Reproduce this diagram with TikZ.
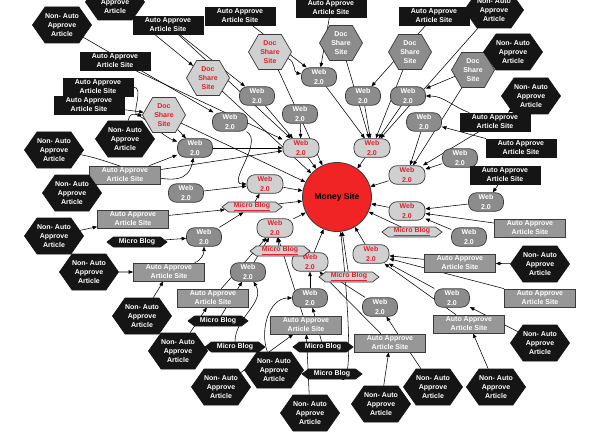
\documentclass[tikz,border=0pt]{standalone}
\usepackage{fontspec}
\setmainfont{Liberation Sans}
\usetikzlibrary{shapes.symbols,shapes.geometric,arrows.meta,backgrounds}
\definecolor{blk}{HTML}{151515}
\definecolor{midg}{HTML}{8C8C8C}
\definecolor{boxg}{HTML}{979797}
\definecolor{lightg}{HTML}{D0D0D0}
\definecolor{redt}{HTML}{E0202C}
\definecolor{moneyred}{HTML}{F02424}
\definecolor{edg}{HTML}{3A3A3A}
\tikzset{
 base/.style={font=\fontsize{7}{9.2}\selectfont\bfseries, align=center, inner sep=0.5pt, line width=0.7pt},
 rweb/.style={base, rectangle, rounded corners=8pt, draw=edg, fill=lightg, text=redt, minimum width=36pt, minimum height=18.5pt},
 gweb/.style={base, rectangle, rounded corners=8pt, draw=edg, fill=midg, text=white, minimum width=35pt, minimum height=18.5pt},
 bbox/.style={base, rectangle, draw=blk, fill=blk, text=white, minimum width=70pt, minimum height=18pt},
 gbox/.style={base, rectangle, draw=edg, fill=boxg, text=white, minimum width=71pt, minimum height=18pt},
 nahex/.style={base, signal, signal to=east and west, signal pointer angle=110, fill=blk, draw=blk, text=white, minimum width=52pt, minimum height=36pt, inner xsep=0pt},
 rdoc/.style={base, signal, signal to=east and west, signal pointer angle=120, fill=lightg, draw=edg, text=redt, minimum width=43pt, minimum height=35pt, inner xsep=0pt},
 gdoc/.style={base, signal, signal to=east and west, signal pointer angle=120, fill=midg, draw=edg, text=white, minimum width=43pt, minimum height=35pt, inner xsep=0pt},
 rmb/.style={base, signal, signal to=east and west, signal pointer angle=75, fill=lightg, draw=edg, text=redt, minimum width=60pt, minimum height=10pt, inner ysep=0.5pt, inner xsep=0pt},
 bmb/.style={base, signal, signal to=east and west, signal pointer angle=75, fill=blk, draw=blk, text=white, minimum width=60pt, minimum height=10pt, inner ysep=0.5pt, inner xsep=0pt},
 money/.style={circle, draw=edg, line width=0.8pt, fill=moneyred, minimum size=69pt, font=\fontsize{8.5}{10}\selectfont\bfseries},
 ar/.style={-{Triangle[length=4.5pt,width=3.6pt]}, line width=0.55pt, black},
}
\newcommand{\txNA}{Non- Auto\\Approve\\Article}
\newcommand{\txAA}{Auto Approve\\Article Site}
\newcommand{\txWB}{Web\\2.0}
\newcommand{\txDS}{Doc\\Share\\Site}
\newcommand{\txMB}{\underline{Micro Blog}}
\begin{document}
\begin{tikzpicture}[x=1pt,y=-1pt]
\clip (0,0) rectangle (602,441);
% money site
\node[money] (M) at (337,197) {Money Site};
% red web
\node[rweb] (rw1) at (301,148) {\txWB};
\node[rweb] (rw2) at (372,148) {\txWB};
\node[rweb] (rw3) at (265,184) {\txWB};
\node[rweb] (rw4) at (407,175) {\txWB};
\node[rweb] (rw5) at (407,211) {\txWB};
\node[rweb] (rw6) at (371,254) {\txWB};
\node[rweb] (rw7) at (275,228) {\txWB};
\node[rweb] (rw8) at (310,262) {\txWB};
% red micro blogs
\node[rmb] (rm1) at (252,207) {\txMB};
\node[rmb] (rm2) at (280,251) {\txMB};
\node[rmb] (rm3) at (349,277) {\txMB};
\node[rmb] (rm4) at (412,232) {\txMB};
% red doc share
\node[rdoc] (rd1) at (164,115) {\txDS};
\node[rdoc] (rd2) at (208,78) {\txDS};
\node[rdoc] (rd3) at (270,52) {\txDS};
% gray doc share
\node[gdoc] (gd1) at (341,43) {\txDS};
\node[gdoc] (gd2) at (410,52) {\txDS};
\node[gdoc] (gd3) at (473,70) {\txDS};
% gray web
\node[gweb] (gw1) at (319,77) {\txWB};
\node[gweb] (gw2) at (257,96) {\txWB};
\node[gweb] (gw3) at (363,96) {\txWB};
\node[gweb] (gw4) at (408,96) {\txWB};
\node[gweb] (gw5) at (300,114) {\txWB};
\node[gweb] (gw6) at (230,122) {\txWB};
\node[gweb] (gw7) at (424,122) {\txWB};
\node[gweb] (gw8) at (195,148) {\txWB};
\node[gweb] (gw9) at (460,158) {\txWB};
\node[gweb] (gw10) at (186,193) {\txWB};
\node[gweb] (gw11) at (486,202) {\txWB};
\node[gweb] (gw12) at (204,237) {\txWB};
\node[gweb] (gw13) at (469,237) {\txWB};
\node[gweb] (gw14) at (248,272) {\txWB};
\node[gweb] (gw15) at (310,298) {\txWB};
\node[gweb] (gw16) at (452,298) {\txWB};
\node[gweb] (gw17) at (380,307) {\txWB};
% black boxes
\node[bbox] (ba1) at (168,25) {\txAA};
\node[bbox] (ba2) at (240,16) {\txAA};
\node[bbox] (ba3) at (331,8) {\txAA};
\node[bbox] (ba4) at (434,16) {\txAA};
\node[bbox] (ba5) at (115,61) {\txAA};
\node[bbox] (ba6) at (98,87) {\txAA};
\node[bbox] (ba7) at (89,105) {\txAA};
\node[bbox] (ba8) at (495,122) {\txAA};
\node[bbox] (ba9) at (521,148) {\txAA};
\node[bbox] (ba10) at (505,175) {\txAA};
% gray boxes
\node[gbox] (ga1) at (125,175) {\txAA};
\node[gbox] (ga2) at (133,219) {\txAA};
\node[gbox] (ga3) at (169,272) {\txAA};
\node[gbox] (ga4) at (213,298) {\txAA};
\node[gbox] (ga5) at (306,325) {\txAA};
\node[gbox] (ga6) at (390,343) {\txAA};
\node[gbox] (ga7) at (530,228) {\txAA};
\node[gbox] (ga8) at (460,263) {\txAA};
\node[gbox] (ga9) at (540,298) {\txAA};
\node[gbox] (ga10) at (469,324) {\txAA};
% black micro blogs
\node[bmb] (bm1) at (137,242) {Micro Blog};
\node[bmb] (bm2) at (218,321) {Micro Blog};
\node[bmb] (bm3) at (235,347) {Micro Blog};
\node[bmb] (bm4) at (323,347) {Micro Blog};
\node[bmb] (bm5) at (332,374) {Micro Blog};
% non auto hexes
\node[nahex] (na1) at (115,2) {\txNA};
\node[nahex] (na2) at (62,25) {\txNA};
\node[nahex] (na3) at (494,10) {\txNA};
\node[nahex] (na4) at (513,52) {\txNA};
\node[nahex] (na5) at (531,96) {\txNA};
\node[nahex] (na6) at (54,150) {\txNA};
\node[nahex] (na7) at (125,139) {\txNA};
\node[nahex] (na8) at (72,193) {\txNA};
\node[nahex] (na9) at (54,236) {\txNA};
\node[nahex] (na10) at (89,272) {\txNA};
\node[nahex] (na11) at (142,316) {\txNA};
\node[nahex] (na12) at (178,351) {\txNA};
\node[nahex] (na13) at (221,387) {\txNA};
\node[nahex] (na14) at (274,370) {\txNA};
\node[nahex] (na15) at (310,413) {\txNA};
\node[nahex] (na16) at (381,404) {\txNA};
\node[nahex] (na17) at (433,387) {\txNA};
\node[nahex] (na18) at (496,387) {\txNA};
\node[nahex] (na19) at (540,343) {\txNA};
\node[nahex] (na20) at (540,264) {\txNA};
\begin{scope}[on background layer]
% to money site
\foreach \s in {rw1,rw2,rw3,rw4,rw5,rw6,rw7,rw8,rm1,rm3,rm4,rd1,rd2,rd3}
  \draw[ar] (\s) -- (M);
\draw[ar] (bm5) .. controls (352,385) and (350,320) .. (M);
% into red webs
\foreach \s in {gw2,gw5,ba5,ba1,ga1,gw8} \draw[ar] (\s) -- (rw1);
\foreach \s in {gw1,gd1,gw3,gd2,na3,gw4} \draw[ar] (\s) -- (rw2);
\draw[ar] (gw6) to[out=-30,in=180] (rw3);
\draw[ar] (gw10) -- (rw3);
\draw[ar] (rm1) -- (rw3);
\foreach \s in {gw7,gd3,gw9,ba8} \draw[ar] (\s) -- (rw4);
\foreach \s in {gw11,ga7,gw13} \draw[ar] (\s) -- (rw5);
\foreach \s in {ga8,gw16,ga9,ga10} \draw[ar] (\s) -- (rw6);
\foreach \s in {rm2,ga4,ga5,gw14} \draw[ar] (\s) -- (rw7);
\foreach \s in {gw15,gw17,ga6} \draw[ar] (\s) -- (rw8);
\foreach \s in {ga2,gw12} \draw[ar] (\s) -- (rm1);
% into second tier
\draw[ar] (ba1) -- (gw2);
\draw[ar] (ba2) -- (gw1);
\draw[ar] (ba3) -- (gw1);
\draw[ar] (rd3) to[out=-20,in=170] (gw1);
\draw[ar] (ba4) -- (gw3);
\draw[ar] (ba8) to[out=160,in=0] (gw4);
\draw[ar] (na4) -- (gw4);
\draw[ar] (ba9) -- (gw7);
\draw[ar] (ba10) -- (gw11);
\draw[ar] (ba6) to[out=0,in=180] (rd1);
\draw[ar] (ba7) -- (rd1);
\draw[ar] (rd1) -- (gw8);
\draw[ar] (na7) to[out=80,in=160] (gw8);
\draw[ar] (ga1) -- (gw8);
\draw[ar] (na6) to[out=-10,in=-100] (gw8);
\draw[ar] (na1) -- (rd2);
\draw[ar] (na2) -- (gw6);
\draw[ar] (na8) -- (ga1);
\draw[ar] (na9) -- (ga2);
\draw[ar] (na10) -- (ga3);
\draw[ar] (na11) -- (ga3);
\draw[ar] (na12) -- (ga4);
\draw[ar] (ga3) to[out=20,in=-90] (gw12);
\draw[ar] (bm1) -- (gw12);
\draw[ar] (na13) -- (ga5);
\draw[ar] (bm2) -- (gw14);
\draw[ar] (bm3) to[out=90,in=-60] (gw14);
\draw[ar] (na14) to[out=110,in=180] (gw15);
\draw[ar] (na15) -- (ga5);
\draw[ar] (bm4) -- (gw15);
\draw[ar] (na16) -- (ga6);
\draw[ar] (na17) -- (gw17);
\draw[ar] (na18) -- (ga10);
\draw[ar] (na19) -- (gw16);
\draw[ar] (na20) -- (ga8);
\draw[ar] (na5) -- (ba8);
\end{scope}
\end{tikzpicture}
\end{document}
